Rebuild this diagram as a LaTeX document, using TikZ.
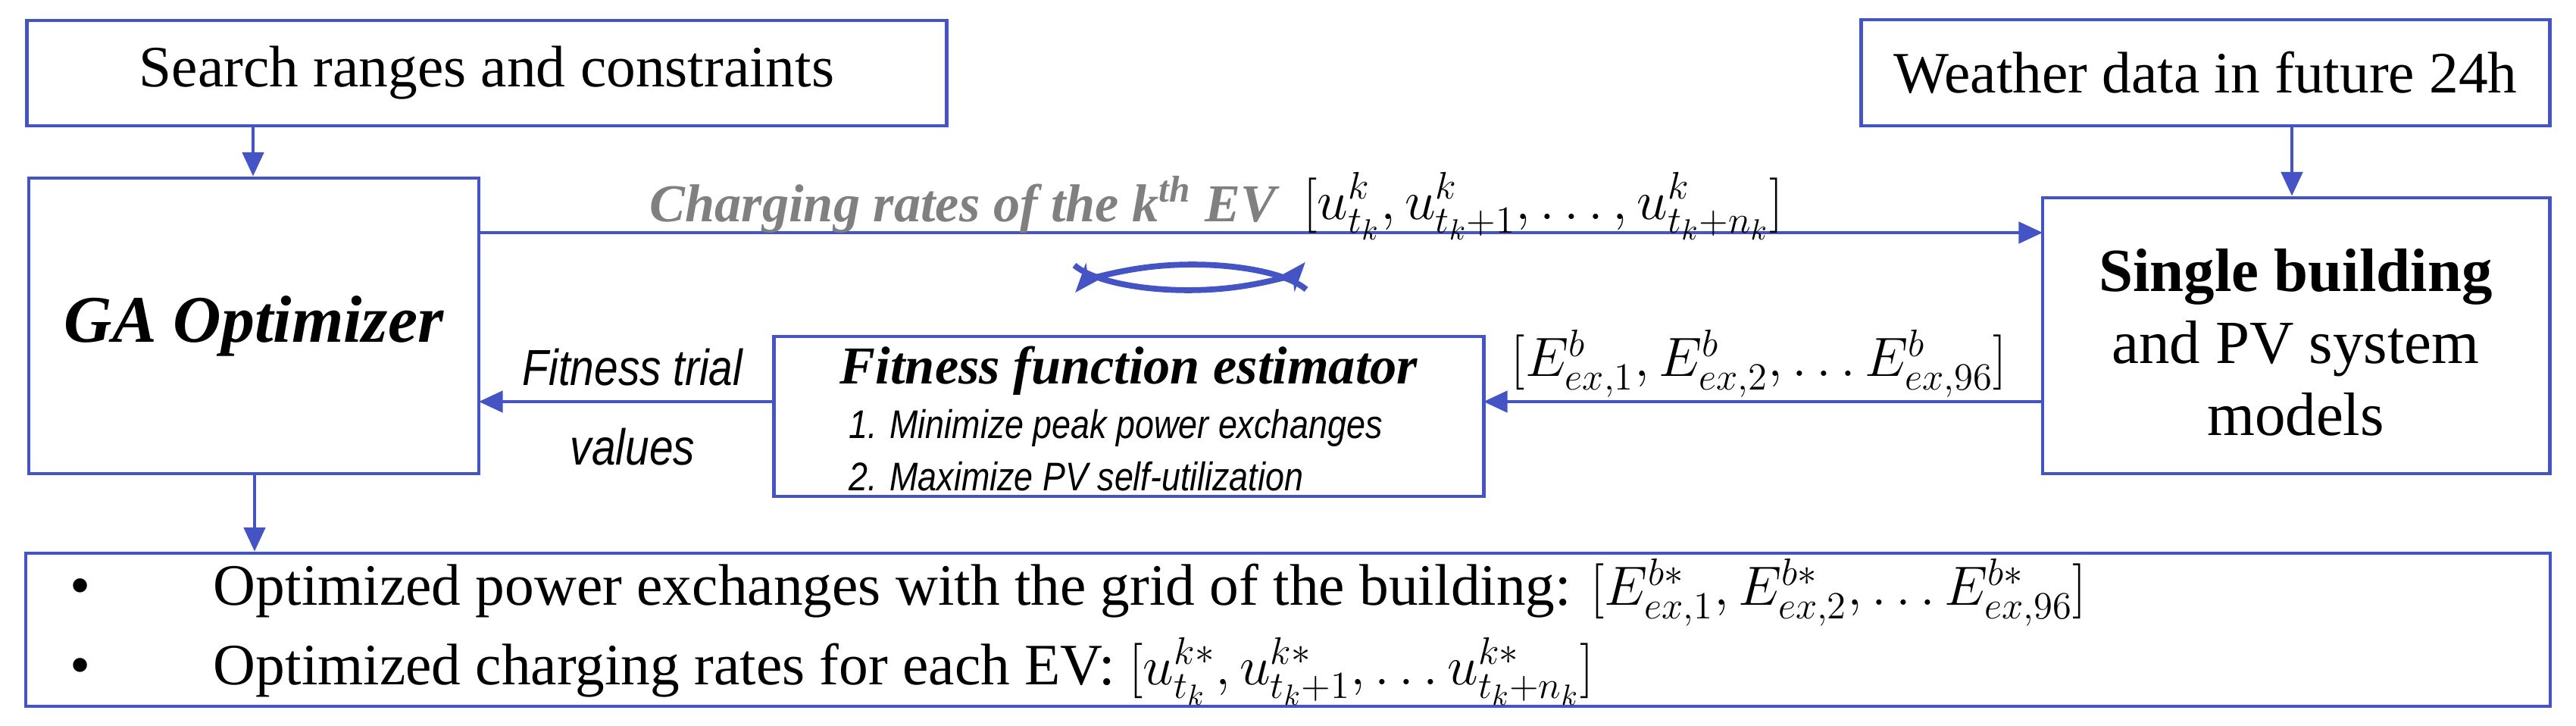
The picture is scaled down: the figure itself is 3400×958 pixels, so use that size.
\documentclass[tikz,border=0pt]{standalone}
\usepackage{fontspec}
\setmainfont{Liberation Serif}
\newfontfamily\serifmain{Liberation Serif}
\newfontfamily\narrowsans{Liberation Sans}
\usetikzlibrary{arrows.meta}
\definecolor{bl}{RGB}{68,84,196}
\definecolor{gr}{RGB}{128,128,128}
\begin{document}
\begin{tikzpicture}[x=0.01cm,y=-0.01cm,
  box/.style={draw=bl,line width=1.3pt,inner sep=0pt},
  arr/.style={draw=bl,line width=1.3pt,-{Triangle[length=9pt,width=8pt]}},
  txt/.style={font=\serifmain\fontsize{22}{26}\selectfont}]
\useasboundingbox (0,0) rectangle (3400,958);
\node[box,minimum width=12.13cm,minimum height=1.39cm] (search) at (642.5,96.5) {};
\node[txt] at (search) {Search ranges and constraints};
\node[box,minimum width=9.08cm,minimum height=1.40cm] (weather) at (2911,96) {};
\node[txt] at (weather) {Weather data in future 24h};
\node[box,minimum width=5.94cm,minimum height=3.90cm] (ga) at (335,430) {};
\node[font=\serifmain\fontsize{25}{30}\selectfont\bfseries\itshape] at (ga) {GA Optimizer};
\node[box,minimum width=6.69cm,minimum height=3.64cm] (bld) at (3030.5,443) {};
\node[align=center,font=\serifmain\fontsize{23}{27}\selectfont] at (3030,452) {\textbf{Single building}\\and PV system\\models};
\node[box,minimum width=9.36cm,minimum height=2.11cm] (fit) at (1490,549.5) {};
\node[font=\serifmain\fontsize{20}{24}\selectfont\bfseries\itshape] at (1490,489) {Fitness function estimator};
\node[font=\fontsize{15}{18}\selectfont\narrowsans\itshape,anchor=west,xscale=0.85] at (1110,565) {1. Minimize peak power exchanges};
\node[font=\fontsize{15}{18}\selectfont\narrowsans\itshape,anchor=west,xscale=0.85] at (1110,629) {2. Maximize PV self-utilization};
\node[box,minimum width=33.30cm,minimum height=2.02cm] (out) at (1700,831) {};
\node[txt,anchor=west] at (80,782) {\textbullet\hspace{2.1em}Optimized power exchanges with the grid of the building: $[E^{b*}_{ex,1},E^{b*}_{ex,2},\dots E^{b*}_{ex,96}]$};
\node[txt,anchor=west] at (80,886) {\textbullet\hspace{2.1em}Optimized charging rates for each EV: $[u^{k*}_{t_k},u^{k*}_{t_k+1},\dots u^{k*}_{t_k+n_k}]$};
\coordinate (gaR) at (632,307);
\coordinate (bldL) at (2696,307);
\draw[arr] (gaR) -- (bldL);
\node[anchor=west,font=\serifmain\fontsize{20}{26}\selectfont\bfseries\itshape,text=gr,inner sep=0pt] at (857,270) {Charging rates of the k\textsuperscript{th} EV};
\node[anchor=west,txt,inner sep=0pt] at (1720,272) {$[u^{k}_{t_k},u^{k}_{t_k+1},\dots,u^{k}_{t_k+n_k}]$};
\coordinate (bldL2) at (2696,530);
\coordinate (fitR) at (1958,530);
\draw[arr] (bldL2) -- (fitR);
\node[txt] at (2322,480) {$[E^{b}_{ex,1},E^{b}_{ex,2},\dots E^{b}_{ex,96}]$};
\coordinate (fitL) at (1022,530);
\coordinate (gaR2) at (632,530);
\draw[arr] (fitL) -- (gaR2);
\node[align=center,font=\fontsize{19}{30}\selectfont\narrowsans\itshape,xscale=0.85] at (835,537) {Fitness trial\\values};
\draw[arr] (search.south -| 334,0) -- (ga.north -| 334,0);
\draw[arr] (weather.south -| 3025,0) -- (bld.north -| 3025,0);
\draw[arr] (ga.south -| 336,0) -- (out.north -| 336,0);
% cycle arrows
\draw[bl,line width=2.2pt,-{Stealth[length=11pt]}] (1418,350) arc[start angle=160,end angle=15,x radius=160,y radius=50];
\draw[bl,line width=2.2pt,-{Stealth[length=11pt]}] (1724,382) arc[start angle=-20,end angle=-165,x radius=160,y radius=50];
\end{tikzpicture}
\end{document}
